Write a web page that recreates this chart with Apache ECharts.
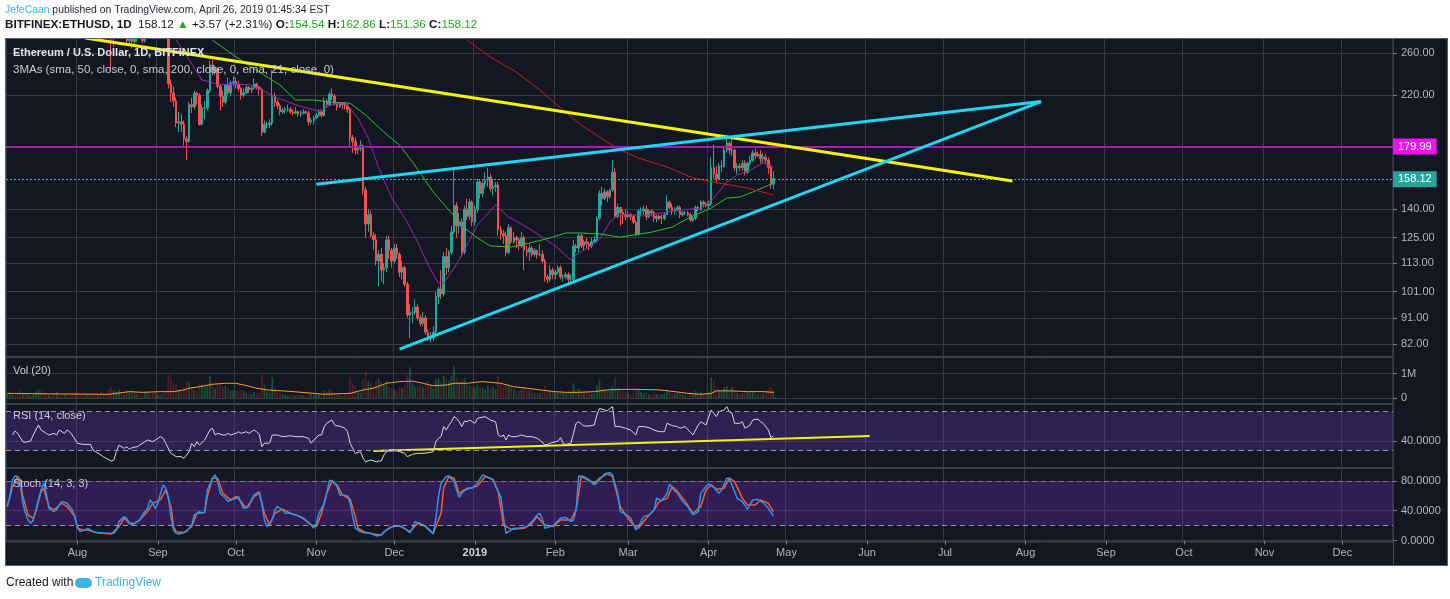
<!DOCTYPE html>
<html>
<head>
<meta charset="utf-8">
<title>BITFINEX:ETHUSD 1D</title>
<script src="https://cdn.jsdelivr.net/npm/echarts@6/dist/echarts.min.js"></script>
<style>
  html, body { margin: 0; padding: 0; background: #fff; }
  #chart { width: 1450px; height: 599px; }
</style>
</head>
<body>
<div id="chart"></div>
<script>
// daily candles starting 2018-07-05, each row is [open, close, low, high]
const firstDay = '2018-07-05';
const dayCount = 534; // axis runs to 2019-12-20
const candles = [
  // Jul 2018
  [454,467,452,475],[467,474,460,478],[474,491,470,495],[491,490,483,497],[490,473,470,493],
  [473,433,430,476],[433,447,430,449],[447,430,423,449],[430,433,425,438],[433,435,429,440],
  [435,450,433,455],[450,478,448,482],[478,498,472,503],[498,479,476,508],[479,468,460,484],
  [468,449,446,476],[449,462,447,465],[462,457,455,470],[457,450,445,461],[450,479,448,483],
  [479,470,466,482],[470,463,460,474],[463,470,455,472],[470,467,464,472],[467,466,462,472],
  [466,457,445,468],[457,433,428,459],
  // Aug
  [433,420,410,437],[420,410,405,425],[410,407,398,416],[407,378,375,412],[378,380,368,385],
  [380,370,365,384],[370,356,350,377],[356,355,348,360],[355,364,352,370],[364,334,330,366],
  [334,320,314,338],[320,318,312,324],[318,280,276,321],[280,278,243,284],[278,282,266,290],
  [282,292,278,296],[292,316,290,320],[316,294,290,320],[294,300,287,305],[300,273,269,303],
  [273,281,270,285],[281,272,265,300],[272,277,268,280],[277,283,272,286],[283,279,276,284],
  [279,273,270,281],[273,286,271,288],[286,295,284,298],[295,286,282,298],[286,284,278,289],
  [284,283,278,289],
  // Sep
  [283,295,282,299],[295,295,288,300],[295,289,284,297],[289,286,280,292],[286,230,226,288],
  [230,222,214,234],[222,215,210,228],[215,197,194,218],[197,198,190,206],[198,196,190,204],
  [196,185,180,199],[185,183,170,187],[183,212,182,214],[212,210,205,218],[210,222,208,224],
  [222,220,212,223],[220,196,195,222],[196,209,195,212],[209,209,200,215],[209,224,207,226],
  [224,248,222,252],[248,241,238,253],[241,245,238,248],[245,228,226,246],[228,219,207,230],
  [219,214,210,224],[214,229,212,230],[229,222,220,236],[222,231,219,233],[231,232,228,237],
  // Oct
  [232,230,226,236],[230,226,223,233],[226,220,216,227],[220,222,218,226],[222,227,221,229],
  [227,225,222,228],[225,226,222,228],[226,230,225,235],[230,227,225,231],[227,225,220,228],
  [225,190,187,226],[190,196,189,199],[196,196,193,198],[196,197,193,200],[197,219,195,243],
  [219,214,210,222],[214,211,208,216],[211,206,203,213],[206,207,204,209],[207,208,205,210],
  [208,208,206,212],[208,206,204,210],[206,205,203,208],[205,206,204,210],[206,204,202,207],
  [204,205,202,207],[205,206,204,208],[206,205,204,207],[205,198,195,207],[198,199,196,201],
  [199,201,196,203],
  // Nov
  [201,203,200,205],[203,206,202,208],[206,203,201,207],[203,215,202,218],[215,212,209,217],
  [212,221,211,223],[221,219,216,226],[219,213,211,221],[213,210,207,214],[210,213,209,214],
  [213,212,208,214],[212,211,208,214],[211,208,205,213],[208,186,180,209],[186,183,175,188],
  [183,177,174,186],[177,178,174,180],[178,180,176,184],[180,151,148,181],[151,132,125,153],
  [132,137,128,140],[137,126,125,139],[126,124,119,128],[124,114,112,127],[114,117,103,119],
  [117,110,105,120],[110,111,104,113],[111,124,109,126],[124,119,115,126],[119,114,111,120],
  // Dec
  [114,120,113,122],[120,117,115,122],[117,109,107,118],[109,111,106,114],[111,104,103,112],
  [104,92,91,105],[92,93,84,96],[93,93,89,95],[93,95,92,98],[95,91,90,96],
  [91,89,88,92],[89,91,88,93],[91,86,85,92],[86,84,83,87],[84,84,82.5,86],
  [84,86,83,88],[86,99,85,101],[99,102,96,103],[102,100,98,110],[100,116,99,118],
  [116,111,108,120],[111,118,109,119],[118,128,117,131],[128,142,127,165],[142,131,125,144],
  [131,133,127,138],[133,118,116,135],[118,140,117,142],[140,136,134,146],[136,144,134,146],
  [144,133,131,145],
  // Jan 2019
  [133,140,131,142],[140,156,138,158],[156,149,146,157],[149,155,147,157],[155,157,152,162],
  [157,159,153,165],[159,152,150,161],[152,153,148,158],[153,154,150,156],[154,129,126,156],
  [129,127,124,131],[127,126,122,129],[126,118,116,128],[118,130,117,132],[130,123,122,131],
  [123,125,122,128],[125,124,120,126],[124,121,119,125],[121,125,120,128],[125,119,110,126],
  [119,118,116,121],[118,120,114,122],[120,117,116,121],[117,119,116,120],[119,117,115,119],
  [117,117,116,122],[117,114,113,119],[114,107,105,115],[107,106,104.5,108],[106,110,105,112],
  [110,108,106,111],
  // Feb
  [108,109,106,110],[109,111,108,112],[111,107,106,112],[107,107,105,108],[107,108,106,109],
  [108,106,104.5,109],[106,106,104.5,108],[106,121,105,124],[121,120,118,122],[120,126,118,127],
  [126,121,120,127],[121,123,119,124],[123,122,120,125],[122,121,119,123],[121,123,120,125],
  [123,124,122,126],[124,135,123,136],[135,149,134,151],[149,146,142,153],[146,150,145,152],
  [150,147,144,151],[147,151,146,152],[151,162,150,170],[162,136,135,165],[136,141,135,143],
  [141,138,131,141],[138,137,132,140],[137,136,134,140],
  // Mar
  [136,137,135,139],[137,136,134,138],[136,133,132,137],[133,127,126,134],[127,139,126,140],
  [139,139,136,141],[139,140,137,142],[140,136,134,142],[136,139,135,140],[139,138,136,140],
  [138,135,133,139],[135,136,133,137],[136,135,134,137],[135,135,132,137],[135,137,134,138],
  [137,144,137,148],[144,141,140,145],[141,139,137,143],[139,140,137,141],[140,141,139,142],
  [141,137,135,142],[137,138,136,139],[138,138,137,139],[138,137,136,139],[137,134,133,138],
  [134,135,133,136],[135,141,134,142],[141,140,139,142],[140,144,139,145],[144,143,141,145],
  [143,142,141,144],
  // Apr
  [142,143,140,145],[143,165,142,172],[165,161,158,181],[161,158,155,166],[158,166,157,168],
  [166,166,162,170],[166,177,165,180],[177,182,175,188],[182,177,174,183],[177,177,173,186],
  [177,165,163,178],[165,166,161,168],[166,165,163,168],[165,168,163,170],[168,162,160,170],
  [162,168,161,169],[168,170,166,173],[170,175,169,177],[175,173,171,178],[173,174,172,176],
  [174,171,168,177],[171,172,168,175],[172,170,168,174],[170,165,161,172],[165,154.54,152,167],
  [154.54,158.12,151.36,162.86]
];

// daily volume in millions, same days as candles
const volumes = [
  0.15,0.18,0.14,0.12,0.2,0.3,0.18,0.2,0.12,0.1,0.15,0.28,0.35,0.3,0.2,0.22,0.12,0.1,0.14,0.25,0.15,0.12,0.14,0.1,0.1,0.15,0.22,
  0.2,0.15,0.14,0.22,0.12,0.1,0.2,0.18,0.15,0.25,0.2,0.12,0.35,0.45,0.3,0.25,0.35,0.2,0.15,0.3,0.22,0.3,0.18,0.15,0.1,0.15,0.2,0.25,0.18,0.2,0.18,
  0.15,0.12,0.2,0.25,0.95,0.8,0.6,0.55,0.35,0.3,0.45,0.7,0.65,0.45,0.35,0.3,0.6,0.55,0.45,0.5,0.9,0.6,0.4,0.5,0.6,0.45,0.5,0.4,0.3,0.3,
  0.3,0.28,0.35,0.3,0.22,0.18,0.15,0.25,0.2,0.2,0.95,0.55,0.25,0.2,0.85,0.4,0.25,0.2,0.15,0.12,0.1,0.14,0.12,0.12,0.14,0.12,0.1,0.09,0.22,0.17,0.14,
  0.12,0.15,0.1,0.3,0.25,0.35,0.3,0.2,0.15,0.1,0.1,0.15,0.2,0.85,0.6,0.5,0.25,0.2,0.8,1.1,0.7,0.6,0.5,0.7,0.8,0.65,0.55,0.7,0.45,0.4,
  0.35,0.3,0.45,0.4,0.5,0.95,1.25,0.6,0.45,0.5,0.55,0.45,0.6,0.7,0.55,0.4,0.75,0.8,0.65,0.9,0.8,0.7,0.9,1.3,0.85,0.65,0.7,0.8,0.55,0.5,0.45,
  0.4,0.55,0.45,0.4,0.35,0.5,0.4,0.45,0.35,0.9,0.6,0.4,0.5,0.55,0.45,0.35,0.3,0.3,0.35,0.45,0.3,0.3,0.25,0.22,0.2,0.2,0.25,0.5,0.35,0.3,0.25,
  0.25,0.2,0.25,0.2,0.22,0.3,0.25,0.6,0.35,0.4,0.3,0.25,0.2,0.22,0.18,0.2,0.5,0.75,0.45,0.35,0.3,0.3,0.5,0.85,0.4,0.35,0.3,0.25,
  0.2,0.15,0.2,0.35,0.4,0.25,0.2,0.25,0.15,0.12,0.2,0.18,0.15,0.15,0.2,0.35,0.25,0.2,0.18,0.2,0.25,0.15,0.12,0.12,0.25,0.2,0.3,0.2,0.25,0.18,0.15,
  0.2,0.85,0.7,0.4,0.35,0.3,0.45,0.5,0.35,0.45,0.3,0.2,0.15,0.2,0.3,0.25,0.2,0.25,0.2,0.15,0.15,0.2,0.25,0.35,0.45,0.3
];

// moving averages
const ema21 = [['2018-09-08',274],['2018-09-18',233.6],['2018-09-21',232],['2018-09-24',229.6],['2018-09-30',229.6],['2018-10-06',229.6],['2018-10-11',224.5],['2018-10-17',217.5],['2018-10-25',211],['2018-11-02',206.6],['2018-11-07',212],['2018-11-12',214],['2018-11-17',201],['2018-11-21',185.6],['2018-11-25',164.9],['2018-11-30',146.4],['2018-12-06',133],['2018-12-10',122.9],['2018-12-14',112.2],['2018-12-18',104.4],['2018-12-20',104.4],['2018-12-24',110.8],['2018-12-28',119],['2019-01-02',131.5],['2019-01-09',142.3],['2019-01-14',135.7],['2019-01-21',130.4],['2019-01-27',125.3],['2019-02-02',120],['2019-02-07',114.4],['2019-02-09',116.7],['2019-02-14',120.5],['2019-02-18',124],['2019-02-22',133],['2019-02-25',136.8],['2019-03-03',136.8],['2019-03-09',136.8],['2019-03-16',138.4],['2019-03-22',139.6],['2019-03-29',140.6],['2019-04-03',146.3],['2019-04-08',155.9],['2019-04-12',160.3],['2019-04-17',163.5],['2019-04-22',168.1],['2019-04-26',165.4]];
const sma50 = [['2018-09-22',273.7],['2018-09-30',258],['2018-10-10',241.1],['2018-10-18',229],['2018-10-24',215.8],['2018-10-31',215.8],['2018-11-07',214],['2018-11-14',213.1],['2018-11-20',203.3],['2018-11-27',190],['2018-12-03',180.5],['2018-12-08',168.8],['2018-12-16',149.8],['2018-12-22',139.5],['2018-12-28',130],['2019-01-02',124.9],['2019-01-07',121],['2019-01-15',120.5],['2019-01-22',122.4],['2019-01-30',124.9],['2019-02-05',127.4],['2019-02-10',127.4],['2019-02-18',126.9],['2019-02-26',125.3],['2019-03-10',127.8],['2019-03-18',130.4],['2019-03-25',135.7],['2019-04-02',140.6],['2019-04-08',146.3],['2019-04-13',146.9],['2019-04-18',149.8],['2019-04-26',155.3]];
const sma200 = [['2018-12-29',273.7],['2019-01-07',255.9],['2019-01-17',241.1],['2019-01-27',222.7],['2019-02-03',209.1],['2019-02-11',195.4],['2019-02-18',186.3],['2019-02-26',177],['2019-03-05',171.5],['2019-03-16',165.5],['2019-03-26',158.4],['2019-04-05',155.3],['2019-04-16',152.2],['2019-04-26',148.1]];
const volMa = [['2018-07-05',0.19],['2018-07-21',0.17],['2018-08-13',0.15],['2018-08-21',0.26],['2018-08-26',0.23],['2018-09-02',0.26],['2018-09-07',0.26],['2018-09-11',0.33],['2018-09-13',0.4],['2018-09-17',0.46],['2018-09-22',0.56],['2018-09-27',0.6],['2018-10-01',0.6],['2018-10-05',0.51],['2018-10-09',0.4],['2018-10-13',0.33],['2018-10-19',0.29],['2018-10-23',0.26],['2018-10-31',0.19],['2018-11-04',0.15],['2018-11-14',0.19],['2018-11-19',0.33],['2018-11-23',0.4],['2018-11-28',0.6],['2018-12-03',0.67],['2018-12-08',0.69],['2018-12-12',0.6],['2018-12-16',0.5],['2018-12-21',0.53],['2018-12-24',0.6],['2018-12-29',0.6],['2019-01-04',0.67],['2019-01-11',0.6],['2019-01-16',0.46],['2019-01-21',0.4],['2019-01-26',0.33],['2019-02-01',0.26],['2019-02-05',0.23],['2019-02-10',0.23],['2019-02-16',0.26],['2019-02-21',0.33],['2019-02-26',0.35],['2019-03-05',0.35],['2019-03-13',0.33],['2019-03-19',0.26],['2019-03-24',0.19],['2019-03-29',0.15],['2019-04-02',0.19],['2019-04-04',0.29],['2019-04-10',0.29],['2019-04-16',0.26],['2019-04-22',0.26],['2019-04-26',0.23]];

// RSI(14)
const rsi = [['2018-07-07',46.1],['2018-07-08',50.2],['2018-07-09',47.8],['2018-07-11',39.2],['2018-07-12',38.6],['2018-07-14',40],['2018-07-15',46.1],['2018-07-17',56.4],['2018-07-18',51.2],['2018-07-20',47.8],['2018-07-21',46.1],['2018-07-23',47.8],['2018-07-24',46.1],['2018-07-25',51.2],['2018-07-27',47.8],['2018-07-28',51.2],['2018-07-29',49.5],['2018-07-30',46.1],['2018-08-01',37.6],['2018-08-03',36.5],['2018-08-06',36.5],['2018-08-07',30.7],['2018-08-08',29],['2018-08-10',25.6],['2018-08-11',23.9],['2018-08-12',22.2],['2018-08-14',19.4],['2018-08-15',20.5],['2018-08-16',29],['2018-08-17',35.8],['2018-08-19',32.4],['2018-08-20',34.1],['2018-08-21',31.4],['2018-08-22',33.1],['2018-08-24',34.1],['2018-08-25',35.8],['2018-08-27',39.2],['2018-08-28',41],['2018-08-30',39.2],['2018-08-31',41],['2018-09-02',44.4],['2018-09-03',42.7],['2018-09-04',37.6],['2018-09-06',27.3],['2018-09-07',25.6],['2018-09-08',23.9],['2018-09-10',23.9],['2018-09-11',22.2],['2018-09-13',29],['2018-09-14',37.6],['2018-09-15',34.1],['2018-09-16',39.2],['2018-09-17',35.8],['2018-09-19',41],['2018-09-21',51.2],['2018-09-22',53],['2018-09-23',46.1],['2018-09-24',47.8],['2018-09-26',46.1],['2018-09-27',46.1],['2018-09-28',47.8],['2018-09-29',46.1],['2018-10-01',47.8],['2018-10-02',49.5],['2018-10-03',47.8],['2018-10-05',49.5],['2018-10-06',47.8],['2018-10-08',51.2],['2018-10-09',49.5],['2018-10-10',47],['2018-10-11',34.1],['2018-10-12',37.6],['2018-10-13',37.6],['2018-10-14',38],['2018-10-15',46.1],['2018-10-17',46.1],['2018-10-19',44.4],['2018-10-22',45.3],['2018-10-24',44.4],['2018-10-27',44.4],['2018-10-29',42.7],['2018-10-30',37.6],['2018-10-31',41],['2018-11-02',46.1],['2018-11-03',46.1],['2018-11-04',54.7],['2018-11-05',58.1],['2018-11-07',61.5],['2018-11-08',56.4],['2018-11-09',55.3],['2018-11-10',55.3],['2018-11-12',53],['2018-11-13',49.5],['2018-11-14',37.6],['2018-11-15',32.4],['2018-11-16',27.3],['2018-11-18',29],['2018-11-19',22.2],['2018-11-20',18.7],['2018-11-22',20.5],['2018-11-24',18.7],['2018-11-25',19.4],['2018-11-26',19.4],['2018-11-27',25.6],['2018-11-28',29],['2018-11-29',30.7],['2018-12-01',30.7],['2018-12-03',29],['2018-12-05',27.3],['2018-12-06',23.9],['2018-12-08',26.3],['2018-12-10',27.3],['2018-12-12',27.3],['2018-12-15',28.3],['2018-12-16',29],['2018-12-17',39.2],['2018-12-18',42.7],['2018-12-19',44.4],['2018-12-20',54.7],['2018-12-21',51.2],['2018-12-22',56],['2018-12-23',59.7],['2018-12-24',64.9],['2018-12-25',63.2],['2018-12-26',59.7],['2018-12-27',54.7],['2018-12-28',60.4],['2018-12-29',59.7],['2018-12-30',61.5],['2019-01-01',58.1],['2019-01-02',63.2],['2019-01-03',63.9],['2019-01-05',64.9],['2019-01-07',61.5],['2019-01-09',59.7],['2019-01-10',46.1],['2019-01-11',44.4],['2019-01-12',46.1],['2019-01-13',41],['2019-01-14',46.1],['2019-01-15',44.4],['2019-01-17',44.4],['2019-01-19',46.1],['2019-01-21',44.4],['2019-01-23',44.4],['2019-01-25',42.7],['2019-01-26',41],['2019-01-28',35.8],['2019-01-29',36.5],['2019-01-30',37.6],['2019-02-01',39.2],['2019-02-02',39.9],['2019-02-03',43.3],['2019-02-04',37.6],['2019-02-05',36.5],['2019-02-07',37.6],['2019-02-08',47.8],['2019-02-09',58.1],['2019-02-10',59.7],['2019-02-12',55.3],['2019-02-14',55.3],['2019-02-16',56.4],['2019-02-17',66.6],['2019-02-18',73.4],['2019-02-20',71.7],['2019-02-21',70.7],['2019-02-22',73.4],['2019-02-23',75.1],['2019-02-24',54.7],['2019-02-26',54.7],['2019-02-28',53],['2019-03-02',51.2],['2019-03-04',46.1],['2019-03-05',54.7],['2019-03-07',54.7],['2019-03-09',53.7],['2019-03-11',51.2],['2019-03-13',49.5],['2019-03-15',49.5],['2019-03-16',58.1],['2019-03-18',55.7],['2019-03-20',54.7],['2019-03-21',53],['2019-03-23',54.7],['2019-03-25',48.9],['2019-03-26',46.1],['2019-03-28',56.4],['2019-03-29',59.7],['2019-03-31',56.4],['2019-04-02',71.7],['2019-04-03',68.3],['2019-04-04',64.9],['2019-04-05',70],['2019-04-07',71.7],['2019-04-08',75.1],['2019-04-09',70],['2019-04-10',68.3],['2019-04-11',58.1],['2019-04-13',58.1],['2019-04-14',59.7],['2019-04-15',53],['2019-04-17',56.4],['2019-04-18',61.5],['2019-04-20',62.5],['2019-04-21',59.7],['2019-04-22',58.1],['2019-04-24',51.2],['2019-04-25',43.3],['2019-04-26',45.3]];

// Stoch (14, 3, 3): %K and %D
const stochK = [['2018-07-05',45.6],['2018-07-06',59],['2018-07-07',81.4],['2018-07-08',86.7],['2018-07-09',85.8],['2018-07-10',74.6],['2018-07-11',50],['2018-07-12',36.6],['2018-07-13',27.7],['2018-07-14',23.2],['2018-07-15',27.7],['2018-07-16',41.1],['2018-07-18',67.9],['2018-07-19',76.9],['2018-07-20',63.5],['2018-07-21',43.3],['2018-07-23',38.9],['2018-07-24',41.1],['2018-07-25',47.8],['2018-07-26',52.3],['2018-07-28',50],['2018-07-29',45.6],['2018-07-30',41.1],['2018-07-31',32.1],['2018-08-01',18.7],['2018-08-02',12],['2018-08-04',14.2],['2018-08-05',16.5],['2018-08-07',12],['2018-08-10',9.8],['2018-08-12',9.8],['2018-08-15',9.8],['2018-08-16',14.2],['2018-08-17',25.4],['2018-08-19',32.1],['2018-08-20',29.9],['2018-08-21',23.2],['2018-08-22',21],['2018-08-24',25.4],['2018-08-25',27.7],['2018-08-26',34.4],['2018-08-28',43.3],['2018-08-29',54.5],['2018-08-30',50],['2018-08-31',43.3],['2018-09-01',50],['2018-09-02',63.5],['2018-09-03',74.6],['2018-09-04',70.2],['2018-09-05',59],['2018-09-06',32.1],['2018-09-07',14.2],['2018-09-08',9.8],['2018-09-09',8.9],['2018-09-11',10.7],['2018-09-12',12],['2018-09-14',21],['2018-09-15',34.4],['2018-09-17',38.9],['2018-09-18',36.6],['2018-09-19',38.9],['2018-09-20',67.9],['2018-09-22',83.6],['2018-09-23',88.1],['2018-09-24',79.1],['2018-09-25',63.5],['2018-09-27',56.7],['2018-09-28',52.3],['2018-09-29',54.5],['2018-10-01',56.7],['2018-10-02',59],['2018-10-03',50],['2018-10-04',43.3],['2018-10-06',45.6],['2018-10-07',54.5],['2018-10-08',61.2],['2018-10-10',65.7],['2018-10-11',50],['2018-10-12',27.7],['2018-10-13',18.7],['2018-10-15',27.7],['2018-10-16',41.1],['2018-10-17',45.6],['2018-10-19',41.1],['2018-10-20',36.6],['2018-10-22',36.6],['2018-10-24',34.4],['2018-10-27',29.9],['2018-10-30',21],['2018-10-31',16.5],['2018-11-01',23.2],['2018-11-02',36.6],['2018-11-04',50],['2018-11-05',63.5],['2018-11-06',80.5],['2018-11-07',80.5],['2018-11-09',72.4],['2018-11-10',61.2],['2018-11-11',61.2],['2018-11-13',59.9],['2018-11-14',50],['2018-11-15',32.1],['2018-11-16',16.5],['2018-11-18',12],['2018-11-19',10.7],['2018-11-22',9.8],['2018-11-24',6.2],['2018-11-26',7.5],['2018-11-27',12],['2018-11-29',16.5],['2018-12-01',19.6],['2018-12-03',19.6],['2018-12-05',16.5],['2018-12-07',10.7],['2018-12-08',16.5],['2018-12-09',25.4],['2018-12-11',23.2],['2018-12-13',18.7],['2018-12-15',12],['2018-12-16',8.9],['2018-12-17',29.9],['2018-12-18',59],['2018-12-19',76.9],['2018-12-21',85.8],['2018-12-22',86.7],['2018-12-24',79.1],['2018-12-25',67.9],['2018-12-26',58.1],['2018-12-27',63.5],['2018-12-29',70.2],['2018-12-31',70.2],['2019-01-02',76.9],['2019-01-04',88.1],['2019-01-06',84.9],['2019-01-08',81.4],['2019-01-09',72.4],['2019-01-11',59],['2019-01-12',32.1],['2019-01-13',9.8],['2019-01-15',14.2],['2019-01-16',16.5],['2019-01-18',16.5],['2019-01-21',18.7],['2019-01-23',25.4],['2019-01-25',34.4],['2019-01-26',36.6],['2019-01-27',28.6],['2019-01-28',16.5],['2019-01-30',18.7],['2019-01-31',19.6],['2019-02-03',29.9],['2019-02-05',31.2],['2019-02-07',25.4],['2019-02-08',27.7],['2019-02-09',41.1],['2019-02-10',86.7],['2019-02-12',85.8],['2019-02-14',81.4],['2019-02-16',74.6],['2019-02-18',81.4],['2019-02-20',89.4],['2019-02-22',91.2],['2019-02-23',88.1],['2019-02-25',63.5],['2019-02-26',38.9],['2019-02-28',35.7],['2019-03-02',29.9],['2019-03-04',14.2],['2019-03-05',18.7],['2019-03-07',32.1],['2019-03-09',34.4],['2019-03-11',41.1],['2019-03-12',56.7],['2019-03-14',53.6],['2019-03-16',63.5],['2019-03-17',76],['2019-03-18',70.2],['2019-03-20',63.5],['2019-03-22',52.3],['2019-03-24',45.6],['2019-03-26',34.4],['2019-03-28',38.9],['2019-03-29',63.5],['2019-03-31',72.4],['2019-04-01',76],['2019-04-03',71.5],['2019-04-05',63.5],['2019-04-06',67.9],['2019-04-08',83.6],['2019-04-09',83.6],['2019-04-10',74.6],['2019-04-12',56.7],['2019-04-14',52.3],['2019-04-16',42],['2019-04-18',54.5],['2019-04-20',55.4],['2019-04-22',50.9],['2019-04-24',43.3],['2019-04-26',33]];
const stochD = [['2018-07-05',45.6],['2018-07-07',72.4],['2018-07-09',85.8],['2018-07-10',81.4],['2018-07-11',59],['2018-07-13',34.4],['2018-07-15',29.9],['2018-07-16',38.9],['2018-07-18',65.7],['2018-07-19',70.2],['2018-07-21',45.6],['2018-07-23',41.1],['2018-07-26',50],['2018-07-28',45.6],['2018-07-31',32.1],['2018-08-01',16.5],['2018-08-03',14.2],['2018-08-05',14.2],['2018-08-08',10.7],['2018-08-14',8.9],['2018-08-17',18.7],['2018-08-19',29.9],['2018-08-21',23.2],['2018-08-23',23.2],['2018-08-25',27.7],['2018-08-28',38.9],['2018-08-30',50],['2018-09-02',54.5],['2018-09-04',67.9],['2018-09-06',45.6],['2018-09-07',18.7],['2018-09-08',12],['2018-09-11',10.7],['2018-09-14',18.7],['2018-09-16',36.6],['2018-09-19',37.5],['2018-09-20',59],['2018-09-22',83.6],['2018-09-24',83.6],['2018-09-26',63.5],['2018-09-29',54.5],['2018-10-01',59],['2018-10-03',52.3],['2018-10-05',43.3],['2018-10-08',59],['2018-10-10',63.5],['2018-10-12',36.6],['2018-10-14',21],['2018-10-16',36.6],['2018-10-19',42],['2018-10-22',36.6],['2018-10-26',32.1],['2018-10-30',21],['2018-11-01',18.7],['2018-11-03',36.6],['2018-11-05',63.5],['2018-11-07',79.1],['2018-11-09',74.6],['2018-11-11',61.2],['2018-11-14',55.4],['2018-11-16',32.1],['2018-11-17',16.5],['2018-11-20',10.7],['2018-11-23',8.9],['2018-11-26',7.5],['2018-11-28',14.2],['2018-11-30',18.7],['2018-12-03',19.6],['2018-12-07',12],['2018-12-10',23.2],['2018-12-13',19.6],['2018-12-16',9.8],['2018-12-19',36.6],['2018-12-20',70.2],['2018-12-22',85.8],['2018-12-24',83.6],['2018-12-26',63.5],['2018-12-28',67.9],['2019-01-02',73.3],['2019-01-05',85.8],['2019-01-08',82.3],['2019-01-10',65.7],['2019-01-12',21],['2019-01-15',15.1],['2019-01-20',16.5],['2019-01-23',23.2],['2019-01-25',32.1],['2019-01-28',21],['2019-01-31',18.7],['2019-02-03',27.7],['2019-02-07',27.7],['2019-02-09',41.1],['2019-02-11',85.8],['2019-02-14',80.5],['2019-02-16',76.9],['2019-02-18',83.6],['2019-02-21',89.4],['2019-02-23',85.8],['2019-02-26',45.6],['2019-02-28',34.4],['2019-03-03',21],['2019-03-05',16.5],['2019-03-08',29.9],['2019-03-11',41.1],['2019-03-13',52.3],['2019-03-16',56.7],['2019-03-18',72.4],['2019-03-20',65.7],['2019-03-23',52.3],['2019-03-26',36.6],['2019-03-29',45.6],['2019-03-31',67.9],['2019-04-02',74.6],['2019-04-04',68.8],['2019-04-07',70.2],['2019-04-09',83.6],['2019-04-11',79.1],['2019-04-14',56.7],['2019-04-16',47.8],['2019-04-19',47.8],['2019-04-21',54.5],['2019-04-24',50],['2019-04-26',38.9]];

// drawn trend lines, [date, value] end points
const yellowLine = [['2018-08-04',276],['2019-07-27',156.5]];
const cyanUpper = [['2018-11-01',154.5],['2019-08-07',214.5]];
const cyanLower = [['2018-12-03',80.4],['2019-08-07',214.5]];
const rsiTrend = [['2018-11-23',29.7],['2019-06-02',45.1]];
const resistance = 179.99;
const lastClose = 158.12;

// axis ticks
const priceTicks = [260, 220, 140, 125, 113, 101, 91, 82];
const volTicks = [0, 1];
const rsiTicks = [40];
const stochTicks = [0, 40, 80];
const monthNames = ['Jan','Feb','Mar','Apr','May','Jun','Jul','Aug','Sep','Oct','Nov','Dec'];

const ln = Math.log;
const t0 = Date.parse(firstDay + 'T00:00:00Z');
const dates = [];
for (let i = 0; i < dayCount; i++) dates.push(new Date(t0 + i * 86400000).toISOString().slice(0, 10));
const isMonthStart = (i, v) => v.slice(8) === '01';

const up = '#26a69a', down = '#ef5350';
const gridColor = '#363a45';
const labelColor = '#b2b5be';
const font = 'Liberation Sans';
const lnPairs = arr => arr.map(([d, v]) => [d, ln(v)]);

const chart = echarts.init(document.getElementById('chart'));

const grid = (top, height) => ({ left: 6, right: 57, top, height, show: true, borderColor: '#4a4e59', borderWidth: 1, backgroundColor: 'transparent', outerBoundsMode: 'none' });

const xAxis = (gi, last) => ({
  type: 'category', gridIndex: gi, data: dates, boundaryGap: true,
  axisLine: { show: false },
  axisTick: { show: last, interval: isMonthStart, alignWithLabel: true, length: 4, lineStyle: { color: '#787b86' } },
  axisLabel: {
    show: last, interval: isMonthStart, margin: 5, color: labelColor, fontSize: 11, fontFamily: font,
    formatter: v => v.slice(5, 7) === '01' ? '{b|' + v.slice(0, 4) + '}' : monthNames[+v.slice(5, 7) - 1],
    rich: { b: { color: '#d1d4dc', fontWeight: 'bold', fontSize: 11, fontFamily: font } }
  },
  splitLine: { show: true, interval: isMonthStart, lineStyle: { color: gridColor } }
});

const yAxis = (gi, min, max, ticks, fmt) => ({
  type: 'value', gridIndex: gi, position: 'right', min, max,
  axisLine: { show: false },
  axisTick: { show: true, customValues: ticks, length: 4, lineStyle: { color: '#787b86' } },
  axisLabel: { customValues: ticks, formatter: fmt, color: labelColor, fontSize: 11, fontFamily: font, margin: 8 },
  splitLine: { show: true, lineStyle: { color: gridColor } }
});

const hLine = (y, color, type, width) => ({ yAxis: y, lineStyle: { color, type, width } });
const priceTag = (v, bg) => ({
  yAxis: ln(v),
  lineStyle: {},
  label: { show: true, position: 'end', distance: 0, formatter: v.toFixed(2), color: '#fff', backgroundColor: bg, padding: [3, 5, 2, 5], fontSize: 11, fontFamily: font }
});

const tag1 = priceTag(resistance, '#f010f0');
tag1.lineStyle = { color: '#a51bb5', width: 2, type: 'solid' };
const tag2 = priceTag(lastClose, '#26a69a');
tag2.lineStyle = { color: '#2bb7b7', width: 1, type: [2, 2] };

const option = {
  backgroundColor: '#131722',
  animation: false,
  grid: [grid(38, 319), grid(357, 47), grid(404, 64), grid(468, 74)],
  xAxis: [xAxis(0, false), xAxis(1, false), xAxis(2, false), xAxis(3, true)],
  yAxis: [
    yAxis(0, ln(77.9), ln(276), priceTicks.map(v => ln(v)), v => Math.exp(v).toFixed(2)),
    yAxis(1, -0.245, 1.673, volTicks, v => v === 0 ? '0' : v + 'M'),
    yAxis(2, 12.26, 77.9, rsiTicks, v => v.toFixed(4)),
    yAxis(3, -1.9, 97.3, stochTicks, v => v.toFixed(4))
  ],
  series: [
    {
      type: 'candlestick', xAxisIndex: 0, yAxisIndex: 0, clip: true, barWidth: '78%', z: 3,
      data: candles.map(r => r.map(v => ln(v))),
      itemStyle: { color: up, color0: down, borderColor: up, borderColor0: down, borderWidth: 1 },
      markLine: { symbol: 'none', silent: true, animation: false, data: [tag1, tag2] }
    },
    { type: 'line', name: 'EMA 21', xAxisIndex: 0, yAxisIndex: 0, data: lnPairs(ema21), symbol: 'none', z: 4, lineStyle: { color: '#9c27b0', width: 1 } },
    { type: 'line', name: 'SMA 50', xAxisIndex: 0, yAxisIndex: 0, data: lnPairs(sma50), symbol: 'none', z: 4, lineStyle: { color: '#2fbf2f', width: 1 } },
    { type: 'line', name: 'SMA 200', xAxisIndex: 0, yAxisIndex: 0, data: lnPairs(sma200), symbol: 'none', z: 4, lineStyle: { color: '#c81e1e', width: 1 } },
    { type: 'line', xAxisIndex: 0, yAxisIndex: 0, data: lnPairs(yellowLine), symbol: 'none', z: 6, lineStyle: { color: '#f2f20a', width: 3 } },
    { type: 'line', xAxisIndex: 0, yAxisIndex: 0, data: lnPairs(cyanUpper), symbol: 'none', z: 6, lineStyle: { color: '#1fd6f2', width: 3 } },
    { type: 'line', xAxisIndex: 0, yAxisIndex: 0, data: lnPairs(cyanLower), symbol: 'none', z: 6, lineStyle: { color: '#1fd6f2', width: 3 } },
    {
      type: 'bar', xAxisIndex: 1, yAxisIndex: 1, barWidth: '65%',
      data: volumes.map((v, i) => ({ value: v, itemStyle: { color: candles[i][1] >= candles[i][0] ? 'rgba(30,160,80,0.45)' : 'rgba(210,50,60,0.32)' } }))
    },
    { type: 'line', xAxisIndex: 1, yAxisIndex: 1, data: volMa, symbol: 'none', z: 4, lineStyle: { color: '#ff9a1f', width: 1 } },
    {
      type: 'line', xAxisIndex: 2, yAxisIndex: 2, data: rsiTrend, symbol: 'none', z: 2, lineStyle: { color: '#f2f20a', width: 2 },
      markArea: { silent: true, itemStyle: { color: 'rgba(110,60,200,0.28)' }, data: [[{ yAxis: 30 }, { yAxis: 70 }]] },
      markLine: { symbol: 'none', silent: true, label: { show: false }, data: [hLine(70, '#9598a1', [5, 4], 1), hLine(30, '#9598a1', [5, 4], 1)] }
    },
    { type: 'line', name: 'RSI', xAxisIndex: 2, yAxisIndex: 2, data: rsi, symbol: 'none', z: 3, lineStyle: { color: '#d8d8e0', width: 1 } },
    {
      type: 'line', name: '%D', xAxisIndex: 3, yAxisIndex: 3, data: stochD, symbol: 'none', z: 3, lineStyle: { color: '#ff5a1f', width: 1.5 },
      markArea: { silent: true, itemStyle: { color: 'rgba(120,40,200,0.3)' }, data: [[{ yAxis: 20 }, { yAxis: 80 }]] },
      markLine: { symbol: 'none', silent: true, label: { show: false }, data: [hLine(80, '#787b86', [5, 4], 1), hLine(20, '#9598a1', [5, 4], 1)] }
    },
    { type: 'line', name: '%K', xAxisIndex: 3, yAxisIndex: 3, data: stochK, symbol: 'none', z: 4, lineStyle: { color: '#2196f3', width: 1.5 } }
  ],
  graphic: [
    { type: 'rect', silent: true, z: 100, shape: { x: 0, y: 0, width: 1450, height: 38 }, style: { fill: '#fff' } },
    { type: 'rect', silent: true, z: 100, shape: { x: 0, y: 566, width: 1450, height: 33 }, style: { fill: '#fff' } },
    { type: 'rect', silent: true, z: 100, shape: { x: 0, y: 38, width: 5, height: 528 }, style: { fill: '#fff' } },
    { type: 'rect', silent: true, z: 100, shape: { x: 1448, y: 38, width: 2, height: 528 }, style: { fill: '#fff' } },
    { type: 'rect', silent: true, z: 100, shape: { x: 5.5, y: 38.5, width: 1442, height: 527 }, style: { fill: 'none', stroke: '#5a5e69', lineWidth: 1 } },
    { type: 'line', silent: true, z: 100, shape: { x1: 1393.5, y1: 542, x2: 1393.5, y2: 566 }, style: { stroke: '#4a4e59', lineWidth: 1 } },
    {
      type: 'text', z: 101, x: 5, y: 5,
      style: {
        text: '{u|JefeCaan}{t| published on TradingView.com, April 26, 2019 01:45:34 EST}',
        rich: { u: { fill: '#3bb3e4', fontSize: 10.4, fontFamily: font }, t: { fill: '#1e222d', fontSize: 10.4, fontFamily: font } }
      }
    },
    {
      type: 'text', z: 101, x: 5, y: 19,
      style: {
        text: '{b|BITFINEX:ETHUSD, 1D}{t|  158.12 }{g|▲}{t| +3.57 (+2.31%) }{b|O:}{g|154.54}{b| H:}{g|162.86}{b| L:}{g|151.36}{b| C:}{g|158.12}',
        rich: {
          b: { fill: '#131722', fontSize: 11.7, fontWeight: 'bold', fontFamily: font },
          t: { fill: '#131722', fontSize: 11.7, fontFamily: font },
          g: { fill: '#1ea81e', fontSize: 11.7, fontFamily: font }
        }
      }
    },
    { type: 'text', z: 101, x: 13, y: 47, style: { text: 'Ethereum / U.S. Dollar, 1D, BITFINEX', fill: '#e0e3eb', fontSize: 11, fontWeight: 'bold', fontFamily: font } },
    { type: 'text', z: 101, x: 13, y: 64, style: { text: '3MAs (sma, 50, close, 0, sma, 200, close, 0, ema, 21, close, 0)', fill: '#c8cbd3', fontSize: 11.5, fontFamily: font } },
    { type: 'text', z: 101, x: 13, y: 365, style: { text: 'Vol (20)', fill: '#c8cbd3', fontSize: 11, fontFamily: font } },
    { type: 'text', z: 101, x: 13, y: 410, style: { text: 'RSI (14, close)', fill: '#c8cbd3', fontSize: 11, fontFamily: font } },
    { type: 'text', z: 101, x: 13, y: 478, style: { text: 'Stoch (14, 3, 3)', fill: '#c8cbd3', fontSize: 11, fontFamily: font } },
    { type: 'text', z: 101, x: 6, y: 577, style: { text: 'Created with', fill: '#131722', fontSize: 12, fontFamily: font } },
    { type: 'rect', z: 101, shape: { x: 75, y: 578, width: 17, height: 10, r: 5 }, style: { fill: '#3bb3e4' } },
    { type: 'text', z: 101, x: 95, y: 577, style: { text: 'TradingView', fill: '#3bb3e4', fontSize: 12, fontFamily: font } }
  ]
};

chart.setOption(option);
</script>
</body>
</html>
